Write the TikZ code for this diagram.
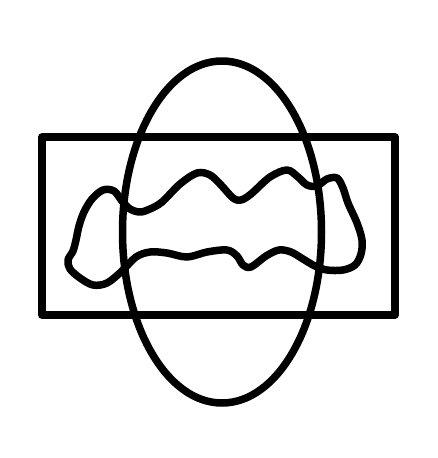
\documentclass[tikz,border=0pt]{standalone}
\usetikzlibrary{calc}

\begin{document}
\begin{tikzpicture}[x=1pt, y=-1pt, outline/.style={draw=black, line width=7.5pt, line join=round}]
\useasboundingbox (0,0) rectangle (437,458);
% Frame rectangle
\draw[outline] (42,137) rectangle (395,315);
% Upright ellipse
\draw[outline] (222,232) ellipse (99.5 and 171);
% Wavy blob
\draw[outline] plot[smooth cycle, tension=0.55] coordinates {
  (103,190) (114,191) (122,201) (130,209) (140,212) (150,209) (162,202) (180,184)
  (197,173) (210,175) (221,185) (233,198) (241,200) (251,194) (270,177) (287,170)
  (298,177) (307,185) (317,186) (327,179) (337,178) (343,188) (348,203) (357,223)
  (362,240) (361,254) (355,265) (343,270) (327,270) (315,266) (303,259) (291,252)
  (279,250) (266,256) (251,267) (243,265) (237,256) (227,250) (207,252) (187,257)
  (167,253) (150,252) (136,257) (122,271) (107,283) (93,285) (80,278) (70,269)
  (68,260) (73,251) (76,240) (79,226) (84,212) (92,199)
};
\end{tikzpicture}
\end{document}
